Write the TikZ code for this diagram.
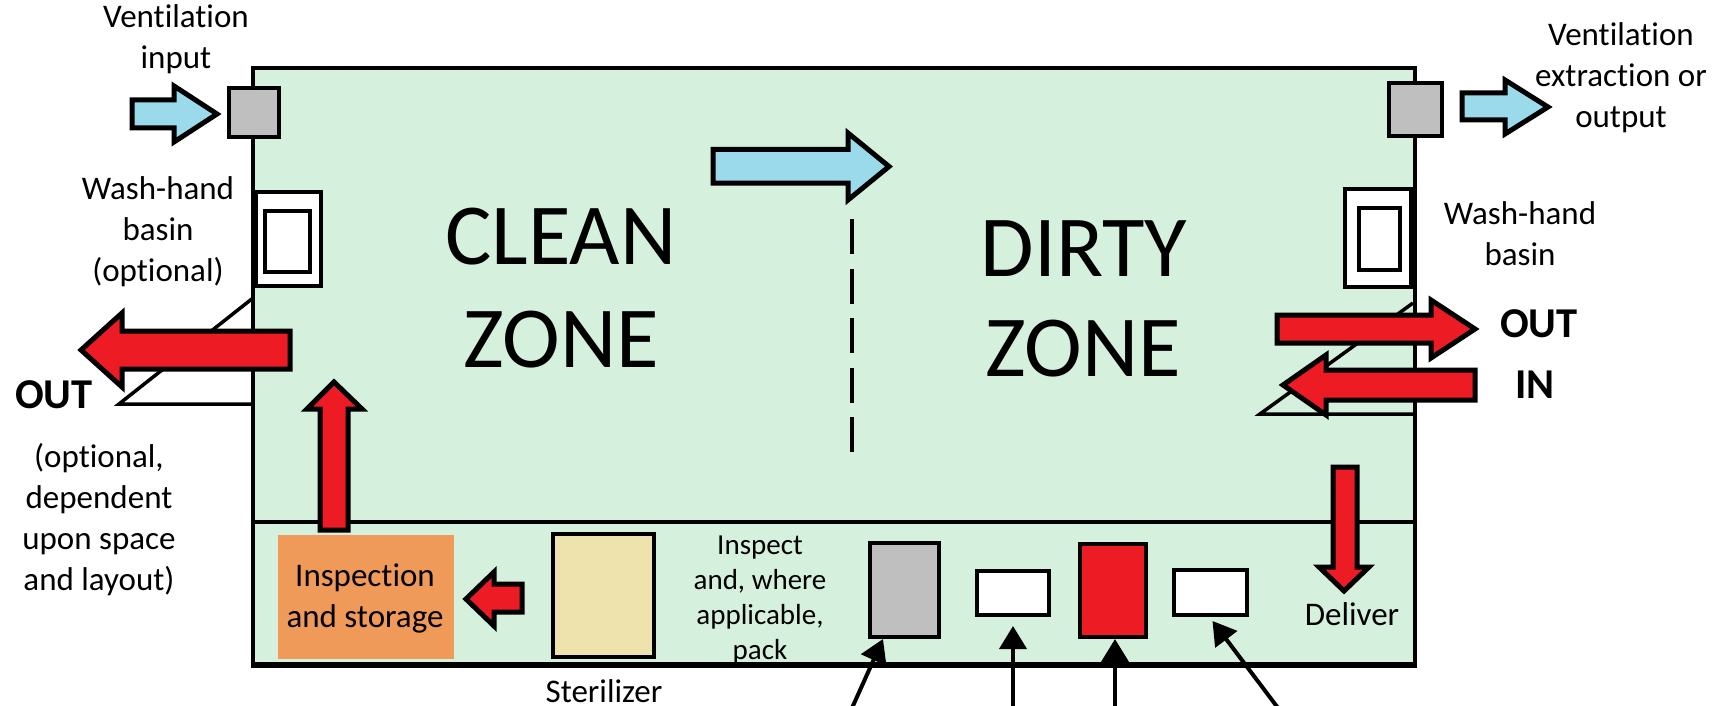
\documentclass[tikz,border=0pt]{standalone}
\usepackage{fontspec}
\setmainfont[Ligatures=NoCommon]{Carlito}
\usetikzlibrary{arrows.meta}
\definecolor{roomgreen}{HTML}{D5F0DC}
\definecolor{ventgrey}{HTML}{BFBFBF}
\definecolor{airblue}{HTML}{9ADAEA}
\definecolor{flowred}{HTML}{ED1C24}
\definecolor{storeorange}{HTML}{F09A59}
\definecolor{sterilcream}{HTML}{EEE2AD}
\newcommand{\txt}[2]{\fontsize{#1}{#2}\selectfont}
\tikzset{
  wall/.style={draw=black,line width=4.5pt},
  box/.style={draw=black,line width=4pt,minimum width=#1,inner sep=0pt,outer sep=0pt},
  lab/.style={font=\txt{33}{41},align=center,inner sep=0pt},
  smalllab/.style={font=\txt{29}{35},align=center,inner sep=0pt},
  boldlab/.style={font=\txt{42.5}{42}\bfseries,inner sep=0pt},
  zonelab/.style={font=\txt{87}{87},align=center,inner sep=0pt},
  blockblue/.style={draw=black,fill=airblue,line width=5pt,miter limit=10},
  blockred/.style={draw=black,fill=flowred,line width=5pt,miter limit=10},
  pointer/.style={draw=black,line width=4pt,-{Triangle[width=27pt,length=23pt]}},
}
\begin{document}
\begin{tikzpicture}[x=1pt,y=-1pt]
\useasboundingbox (0,0) rectangle (1724,706);
% door swings under the room outline
\draw[fill=white,line width=3.5pt,line join=miter] (253,298) -- (119,404) -- (253,404);
% room
\path[fill=roomgreen] (253,68) rectangle (1415,666);
\draw[wall] (253,68) rectangle (1415,666);
\draw[wall] (253,522) -- (1415,522);
\draw[line width=4.5pt] (253,664) -- (1415,664);
\draw[line width=3.5pt] (1413,303) -- (1260,414) -- (1413,414);
% thick wall behind basins
\draw[line width=6pt] (1413,187) -- (1413,288);
\draw[line width=6pt] (254,191) -- (254,287);
% vents
\node[box=50pt,fill=ventgrey,minimum height=49pt] (ventin) at (254,113) {};
\node[box=53pt,fill=ventgrey,minimum height=53pt] (ventout) at (1415.5,110) {};
% basins
\node[box=65pt,fill=white,minimum height=94pt,line width=3.5pt] (basinL) at (288.5,239) {};
\node[box=45pt,fill=white,minimum height=61pt] (basinLi) at (287,241) {};
\node[box=66pt,fill=white,minimum height=98pt] (basinR) at (1378,237.5) {};
\node[box=41pt,fill=white,minimum height=62pt] (basinRi) at (1379,238.5) {};
% dashed divider
\draw[line width=4.5pt,dash pattern=on 35pt off 14.5pt] (852,219) -- (852,452);
% zone text
\node[zonelab] (clean) at (561,237) {CLEAN};
\node[zonelab] (cleanz) at (561,340) {ZONE};
\node[zonelab] (dirty) at (1084,249) {DIRTY};
\node[zonelab] (dirtyz) at (1083,349) {ZONE};
% bottom-strip equipment
\node[fill=storeorange,minimum width=176pt,minimum height=124pt,inner sep=0pt] (store) at (366,597) {};
\node[box=101pt,fill=sterilcream,minimum height=123pt] (steril) at (603.5,595.5) {};
\node[box=69pt,fill=ventgrey,minimum height=94pt] (greybox) at (904.5,590) {};
\node[box=72pt,fill=white,minimum height=44pt] (white1) at (1013,593) {};
\node[box=66pt,fill=flowred,minimum height=93pt] (redbox) at (1113,590.5) {};
\node[box=73pt,fill=white,minimum height=45pt] (white2) at (1210.5,592.5) {};
% block arrows
\draw[blockblue] (132,100) -- (174,100) -- (174,86) -- (217,114) -- (174,142) -- (174,128) -- (132,128) -- cycle;
\draw[blockblue] (1462,93) -- (1505,93) -- (1505,80) -- (1548,107) -- (1505,134) -- (1505,120) -- (1462,120) -- cycle;
\draw[blockblue] (713,149.5) -- (848,149.5) -- (848,133) -- (889,166.5) -- (848,200) -- (848,183) -- (713,183) -- cycle;
\draw[blockred] (290,331) -- (122,331) -- (122,313) -- (81,350) -- (122,387) -- (122,369) -- (290,369) -- cycle;
\draw[blockred] (320,530) -- (320,409) -- (307,409) -- (334,382) -- (362,409) -- (348,409) -- (348,530) -- cycle;
\draw[blockred] (1277,315) -- (1431,315) -- (1431,300) -- (1475,329) -- (1431,358) -- (1431,343) -- (1277,343) -- cycle;
\draw[blockred] (1475,370) -- (1326,370) -- (1326,355) -- (1283,385) -- (1326,415) -- (1326,400) -- (1475,400) -- cycle;
\draw[blockred] (1333,467) -- (1357,467) -- (1357,567) -- (1369,567) -- (1344,591) -- (1319,567) -- (1333,567) -- cycle;
\draw[blockred] (522,584) -- (494,584) -- (494,572) -- (466,599) -- (494,626) -- (494,612) -- (522,612) -- cycle;
% labels
\node[lab] (l1) at (176,39) {Ventilation\\input};
\node[lab] (l2) at (1621,78) {Ventilation\\extraction or\\output};
\node[lab] (l3) at (158,231.5) {Wash-hand\\basin\\(optional)};
\node[lab] (l4) at (1520,234) {Wash-hand\\basin};
\node[lab] (l5) at (99,520) {(optional,\\dependent\\upon space\\and layout)};
\node[boldlab] (out1) at (54,395) {OUT};
\node[boldlab] (out2) at (1539,324) {OUT};
\node[boldlab] (in1) at (1535,385) {IN};
\node[lab] (st) at (365,598) {Inspection\\and storage};
\node[smalllab] (insp) at (760,600) {Inspect\\and, where\\applicable,\\pack};
\node[lab] (ster) at (604,691) {Sterilizer};
\node[lab] (del) at (1352,614) {Deliver};
% pointers
\coordinate (p1) at (852,708);
\coordinate (p2) at (1013,708);
\coordinate (p3) at (1115,708);
\coordinate (p4) at (1278,708);
\draw[pointer] (p1) -- ([xshift=13pt,yshift=-2pt]greybox.south west);
\draw[pointer] (p2) -- ([yshift=-11pt]white1.south);
\draw[pointer] (p3) -- ([xshift=2pt,yshift=-2pt]redbox.south);
\draw[pointer] (p4) -- ([xshift=2pt,yshift=-6pt]white2.south);
\end{tikzpicture}
\end{document}
